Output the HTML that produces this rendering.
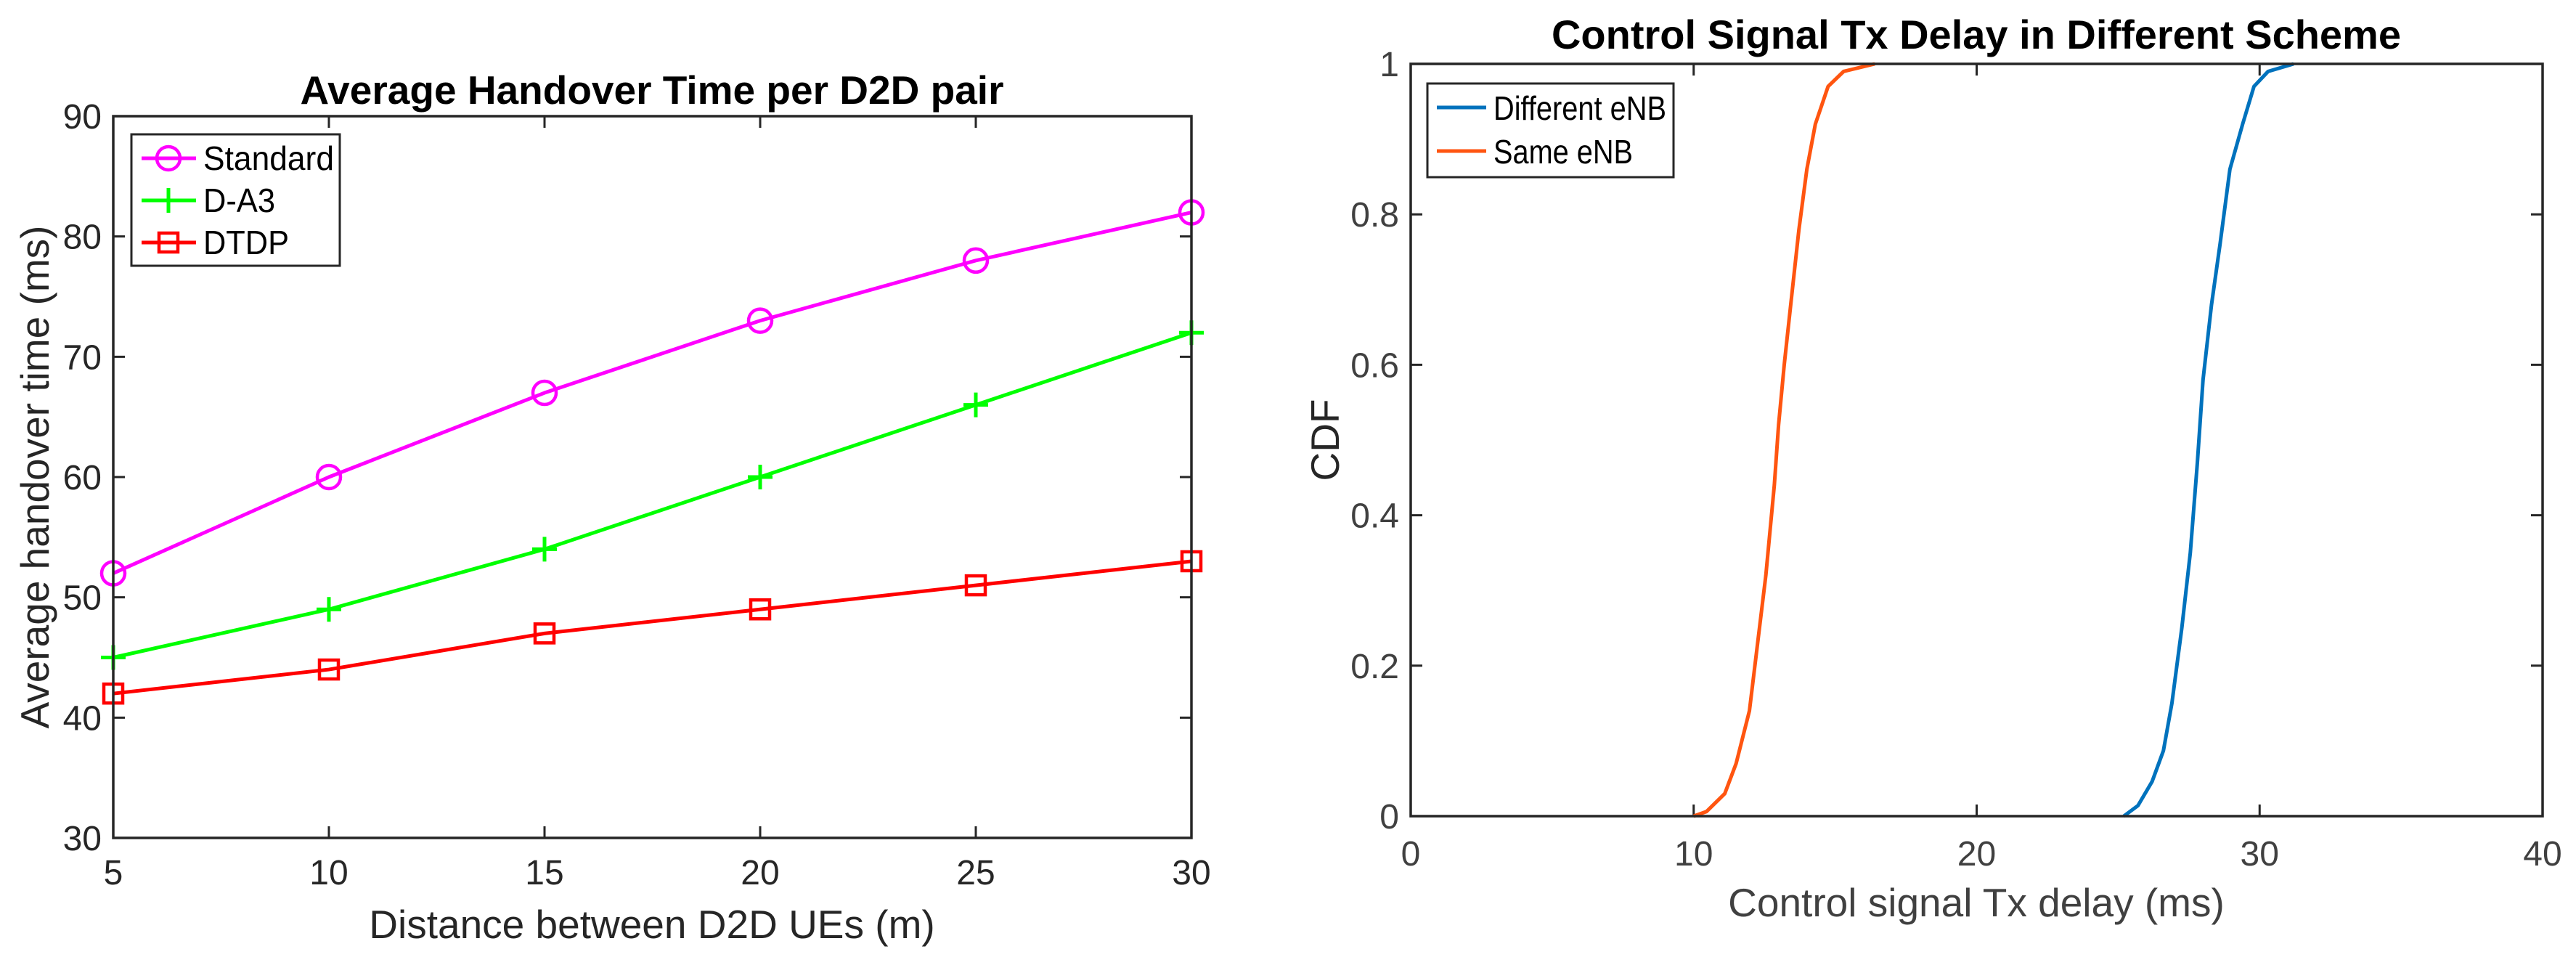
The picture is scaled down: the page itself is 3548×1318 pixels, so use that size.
<!DOCTYPE html>
<html><head><meta charset="utf-8"><style>
html,body{margin:0;padding:0;background:#fff;}
svg{display:block;font-family:"Liberation Sans",Arial,sans-serif;}
</style></head><body>
<svg id="fig" width="3548" height="1318" viewBox="0 0 3548 1318" xmlns="http://www.w3.org/2000/svg">
<rect width="3548" height="1318" fill="#fff"/>
<g id="left"></g>
<g id="right"></g>
</svg>
<script>
// ---- Left chart data ----
const distCats = [5, 10, 15, 20, 25, 30];
const standardVals = [52, 60, 67, 73, 78, 82];
const da3Vals = [45, 49, 54, 60, 66, 72];
const dtdpVals = [42, 44, 47, 49, 51, 53];
const leftXTicks = [5, 10, 15, 20, 25, 30];
const leftYTicks = [30, 40, 50, 60, 70, 80, 90];
// ---- Right chart data ----
const sameX = [10.0, 10.45, 11.1, 11.5, 11.97, 12.26, 12.55, 12.85, 13.0, 13.2, 13.43, 13.72, 14.0, 14.3, 14.75, 15.3, 16.4];
const sameY = [0, 0.006, 0.03, 0.07, 0.14, 0.23, 0.32, 0.44, 0.52, 0.6, 0.68, 0.78, 0.86, 0.92, 0.97, 0.99, 1];
const diffX = [25.2, 25.7, 26.2, 26.6, 26.9, 27.25, 27.55, 27.8, 28.0, 28.3, 28.6, 28.95, 29.4, 29.8, 30.3, 31.2];
const diffY = [0, 0.014, 0.046, 0.087, 0.15, 0.25, 0.35, 0.47, 0.58, 0.68, 0.76, 0.86, 0.92, 0.97, 0.99, 1];
const rightXTicks = [0, 10, 20, 30, 40];
const rightYTicks = [0, 0.2, 0.4, 0.6, 0.8, 1];
const rightYLabels = ['0', '0.2', '0.4', '0.6', '0.8', '1'];

const NS = 'http://www.w3.org/2000/svg';
function mk(parent, tag, attrs, text) {
  const e = document.createElementNS(NS, tag);
  for (const k in attrs) e.setAttribute(k, attrs[k]);
  if (text !== undefined) e.textContent = text;
  parent.appendChild(e);
  return e;
}
function axes(g, box, xs, ys, xLab, yLabFmt, tickColor) {
  const fx = v => box.x0 + (v - box.xmin) / (box.xmax - box.xmin) * (box.x1 - box.x0);
  const fy = v => box.y1 - (v - box.ymin) / (box.ymax - box.ymin) * (box.y1 - box.y0);
  xs.forEach((v, i) => {
    const t = mk(g, 'path', {d: `M${fx(v)},${box.y1}v-16M${fx(v)},${box.y0}v16`, stroke: '#262626', 'stroke-width': 3, fill: 'none'});
    
    
    const l = mk(g, 'text', {x: fx(v), y: box.y1 + box.xlabDy, 'text-anchor': 'middle', 'font-size': 48, fill: tickColor}, xLab[i]);
    
    
  });
  ys.forEach((v, i) => {
    const t = mk(g, 'path', {d: `M${box.x0},${fy(v)}h16M${box.x1},${fy(v)}h-16`, stroke: '#262626', 'stroke-width': 3, fill: 'none'});
    
    
    const l = mk(g, 'text', {x: box.x0 - 16, y: fy(v) + 17, 'text-anchor': 'end', 'font-size': 48, fill: tickColor}, yLabFmt[i]);
    
    
  });
  return {fx, fy};
}
function frame(g, box) {
  const r = mk(g, 'rect', {x: box.x0, y: box.y0, width: box.x1 - box.x0, height: box.y1 - box.y0, fill: 'none', stroke: '#262626', 'stroke-width': 3.5});
  
  
}

// ===== LEFT =====
const L = document.getElementById('left');
const lb = {x0: 156, x1: 1641, y0: 160, y1: 1154, xmin: 5, xmax: 30, ymin: 30, ymax: 90, xlabDy: 64};
const la = axes(L, lb, leftXTicks, leftYTicks, leftXTicks.map(String), leftYTicks.map(String), '#262626');
function marker(g, type, x, y, color) {
  let e;
  if (type === 'o') e = mk(g, 'circle', {cx: x, cy: y, r: 16, fill: 'none', stroke: color, 'stroke-width': 4.5});
  else if (type === '+') e = mk(g, 'path', {d: `M${x-17},${y}h34M${x},${y-17}v34`, stroke: color, 'stroke-width': 5});
  else e = mk(g, 'rect', {x: x-13, y: y-13, width: 26, height: 26, fill: 'none', stroke: color, 'stroke-width': 4.5});
  return e;
}
const leftSeries = [
  {vals: standardVals, color: '#ff00ff', m: 'o', name: 'Standard', id: 'standard', tl: 180},
  {vals: da3Vals, color: '#00ff00', m: '+', name: 'D-A3', id: 'd-a3', tl: 99},
  {vals: dtdpVals, color: '#ff0000', m: 's', name: 'DTDP', id: 'dtdp', tl: 118}
];
leftSeries.forEach(s => {
  const pts = distCats.map((c, i) => la.fx(c) + ',' + la.fy(s.vals[i])).join(' ');
  const pl = mk(L, 'polyline', {points: pts, fill: 'none', stroke: s.color, 'stroke-width': 5, 'stroke-linejoin': 'round'});
  
  
  distCats.forEach((c, i) => {
    const mm = marker(L, s.m, la.fx(c), la.fy(s.vals[i]), s.color);
    
    
  });
});
frame(L, lb);
const lleg = mk(L, 'g', {});


mk(lleg, 'rect', {x: 181, y: 185, width: 287, height: 181, fill: '#fff', stroke: '#262626', 'stroke-width': 3});
leftSeries.forEach((s, i) => {
  const y = 218 + i * 58;
  const en = mk(lleg, 'g', {});
  
  
  mk(en, 'line', {x1: 195, x2: 270, y1: y, y2: y, stroke: s.color, 'stroke-width': 5});
  marker(en, s.m, 232, y, s.color);
  mk(en, 'text', {x: 280, y: y + 16, 'font-size': 46, fill: '#000', textLength: s.tl, lengthAdjust: 'spacingAndGlyphs'}, s.name);
});
let t;
t = mk(L, 'text', {x: 898, y: 143, 'text-anchor': 'middle', 'font-size': 55, 'font-weight': 'bold', fill: '#000'}, 'Average Handover Time per D2D pair');
 
t = mk(L, 'text', {x: 898, y: 1292, 'text-anchor': 'middle', 'font-size': 55, fill: '#262626'}, 'Distance between D2D UEs (m)');
 
t = mk(L, 'text', {x: 0, y: 0, 'text-anchor': 'middle', 'font-size': 55, fill: '#262626', transform: 'translate(67,657) rotate(-90)'}, 'Average handover time (ms)');
 

// ===== RIGHT =====
const R = document.getElementById('right');
const rb = {x0: 1943, x1: 3502, y0: 88, y1: 1124, xmin: 0, xmax: 40, ymin: 0, ymax: 1, xlabDy: 68};
const ra = axes(R, rb, rightXTicks, rightYTicks, rightXTicks.map(String), rightYLabels, '#404040');
const rightSeries = [
  {xs: diffX, ys: diffY, color: '#0072bd', name: 'Different eNB', id: 'different-enb', tl: 238},
  {xs: sameX, ys: sameY, color: '#ff5510', name: 'Same eNB', id: 'same-enb', tl: 192}
];
rightSeries.forEach(s => {
  const pts = s.xs.map((x, i) => ra.fx(x) + ',' + ra.fy(s.ys[i])).join(' ');
  const pl = mk(R, 'polyline', {points: pts, fill: 'none', stroke: s.color, 'stroke-width': 5, 'stroke-linejoin': 'round'});
  
  
});
frame(R, rb);
const rleg = mk(R, 'g', {});


mk(rleg, 'rect', {x: 1966, y: 115, width: 339, height: 129, fill: '#fff', stroke: '#262626', 'stroke-width': 3});
rightSeries.forEach((s, i) => {
  const y = 148 + i * 60;
  const en = mk(rleg, 'g', {});
  
  
  mk(en, 'line', {x1: 1979, x2: 2047, y1: y, y2: y, stroke: s.color, 'stroke-width': 5});
  mk(en, 'text', {x: 2057, y: y + 17, 'font-size': 46, fill: '#000', textLength: s.tl, lengthAdjust: 'spacingAndGlyphs'}, s.name);
});
t = mk(R, 'text', {x: 2722, y: 67, 'text-anchor': 'middle', 'font-size': 56, 'font-weight': 'bold', fill: '#000'}, 'Control Signal Tx Delay in Different Scheme');
 
t = mk(R, 'text', {x: 2722, y: 1262, 'text-anchor': 'middle', 'font-size': 55, fill: '#404040'}, 'Control signal Tx delay (ms)');
 
t = mk(R, 'text', {x: 0, y: 0, 'text-anchor': 'middle', 'font-size': 55, fill: '#262626', transform: 'translate(1844,606) rotate(-90)'}, 'CDF');
 
</script>
</body></html>
